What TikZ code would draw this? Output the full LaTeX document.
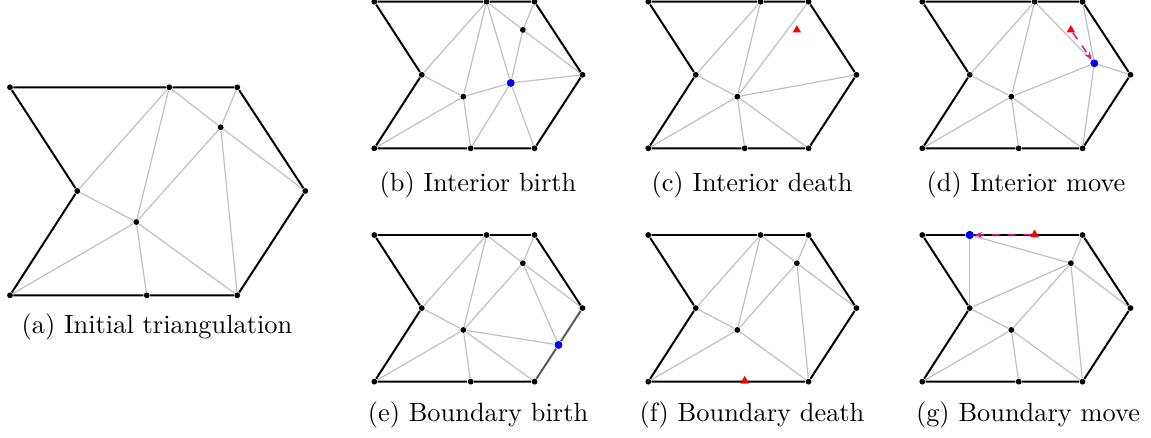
\documentclass[tikz,border=0pt]{standalone}
\usetikzlibrary{shapes.geometric,arrows.meta}
\newcommand\mkpts[1]{%
  \node[dot] (#1TL) at (0,0) {};
  \node[dot] (#1TR) at (227.3,0) {};
  \node[dot] (#1R) at (295.3,103.7) {};
  \node[dot] (#1L) at (67.3,103.7) {};
  \node[dot] (#1C) at (126.3,134.7) {};
  \node[dot] (#1BL) at (0,208) {};
  \node[dot] (#1BR) at (227.3,208) {};
}
\begin{document}
\begin{tikzpicture}[x=0.379pt,y=-0.379pt,
  dot/.style={circle,fill=black,inner sep=0pt,minimum size=2.2pt},
  bdot/.style={circle,fill=blue,inner sep=0pt,minimum size=3pt},
  rtri/.style={regular polygon,regular polygon sides=3,fill=red,inner sep=0pt,minimum size=3.6pt},
  bnd/.style={line width=0.75pt,black},
  edg/.style={line width=0.45pt,black!25},
  mv/.style={dashed,line width=0.6pt,magenta!75!violet,-{Stealth[length=3pt]}},
  captxt/.style={font=\normalsize}]
\useasboundingbox (0,0) rectangle (1151,438);
% (a)
\begin{scope}[shift={(10,87.3)}]
  \mkpts{a}
  \node[dot] (aTM) at (159.3,0) {};
  \node[dot] (aP) at (210.7,40) {};
  \node[dot] (aBM) at (136.7,208) {};
  \foreach \u/\v in {L/TM,TM/C,TM/P,TR/P,P/R,P/C,P/BR,L/C,BL/C,C/BM,C/BR}
    \draw[edg] (a\u) -- (a\v);
  \draw[bnd] (aTL) -- (aTM) -- (aTR) -- (aR) -- (aBR) -- (aBM) -- (aBL) -- (aL) -- (aTL);
\end{scope}
\node[captxt] (capa) at (157,327) {(a) Initial triangulation};
% (b)
\begin{scope}[shift={(374.3,1.7)},scale=0.705]
  \mkpts{b}
  \node[dot] (bTM) at (159.3,0) {};
  \node[dot] (bP) at (210.7,40) {};
  \node[dot] (bBM) at (136.7,208) {};
  \node[bdot] (bQ) at (193.5,115.3) {};
  \foreach \u/\v in {L/TM,TM/C,TM/Q,TM/P,TR/P,P/R,P/Q,Q/R,L/C,BL/C,C/Q,C/BM,Q/BM,Q/BR}
    \draw[edg] (b\u) -- (b\v);
  \draw[bnd] (bTL) -- (bTM) -- (bTR) -- (bR) -- (bBR) -- (bBM) -- (bBL) -- (bL) -- (bTL);
\end{scope}
\node[captxt] (capb) at (478,185) {(b) Interior birth};
% (c)
\begin{scope}[shift={(648.3,1.7)},scale=0.705]
  \mkpts{c}
  \node[dot] (cTM) at (159.3,0) {};
  \node[dot] (cBM) at (136.7,208) {};
  \node[rtri] (cX) at (210.7,40) {};
  \foreach \u/\v in {L/TM,TM/C,TR/C,C/R,L/C,BL/C,C/BM,C/BR}
    \draw[edg] (c\u) -- (c\v);
  \draw[bnd] (cTL) -- (cTM) -- (cTR) -- (cR) -- (cBR) -- (cBM) -- (cBL) -- (cL) -- (cTL);
\end{scope}
\node[captxt] (capc) at (752,185) {(c) Interior death};
% (d)
\begin{scope}[shift={(922.3,1.7)},scale=0.705]
  \mkpts{d}
  \node[dot] (dTM) at (159.3,0) {};
  \node[dot] (dBM) at (136.7,208) {};
  \node[rtri] (dX) at (210.7,40) {};
  \node[bdot] (dQ) at (244,87.4) {};
  \foreach \u/\v in {L/TM,TM/C,TM/Q,TR/Q,Q/R,Q/C,Q/BR,L/C,BL/C,C/BM,C/BR}
    \draw[edg] (d\u) -- (d\v);
  \draw[bnd] (dTL) -- (dTM) -- (dTR) -- (dR) -- (dBR) -- (dBM) -- (dBL) -- (dL) -- (dTL);
  \draw[mv] (dX) -- (dQ);
\end{scope}
\node[captxt] (capd) at (1026,185) {(d) Interior move};
% (e)
\begin{scope}[shift={(374.3,235)},scale=0.705]
  \mkpts{e}
  \node[dot] (eTM) at (159.3,0) {};
  \node[dot] (eP) at (210.7,40) {};
  \node[dot] (eBM) at (136.7,208) {};
  \node[bdot] (eQ) at (261.3,155.9) {};
  \foreach \u/\v in {L/TM,TM/C,TM/P,TR/P,P/R,P/C,P/Q,C/Q,L/C,BL/C,C/BM,C/BR}
    \draw[edg] (e\u) -- (e\v);
  \draw[bnd] (eBR) -- (eBM) -- (eBL) -- (eL) -- (eTL) -- (eTM) -- (eTR) -- (eR);
  \draw[line width=0.75pt,black!65] (eR) -- (eQ) -- (eBR);
\end{scope}
\node[captxt] (cape) at (478,415) {(e) Boundary birth};
% (f)
\begin{scope}[shift={(648.3,235)},scale=0.705]
  \mkpts{f}
  \node[dot] (fTM) at (159.3,0) {};
  \node[dot] (fP) at (210.7,40) {};
  \node[rtri] (fX) at (136.7,207) {};
  \foreach \u/\v in {L/TM,TM/C,TM/P,TR/P,P/R,P/C,P/BR,L/C,BL/C,C/BR}
    \draw[edg] (f\u) -- (f\v);
  \draw[bnd] (fTL) -- (fTM) -- (fTR) -- (fR) -- (fBR) -- (fBL) -- (fL) -- (fTL);
  \node[rtri] at (fX) {};
\end{scope}
\node[captxt] (capf) at (752,415) {(f) Boundary death};
% (g)
\begin{scope}[shift={(922.3,235)},scale=0.705]
  \mkpts{g}
  \node[bdot] (gQ) at (67.3,0) {};
  \node[dot] (gP) at (210.7,40) {};
  \node[dot] (gBM) at (136.7,208) {};
  \node[rtri] (gX) at (159.3,-0.5) {};
  \foreach \u/\v in {Q/L,Q/P,L/P,TR/P,P/R,P/C,P/BR,L/C,BL/C,C/BM,C/BR}
    \draw[edg] (g\u) -- (g\v);
  \draw[bnd] (gTL) -- (gQ) -- (gTR) -- (gR) -- (gBR) -- (gBM) -- (gBL) -- (gL) -- (gTL);
  \draw[mv] (gX) -- (gQ);
  \node[rtri] at (gX) {};
  \node[bdot] at (gQ) {};
\end{scope}
\node[captxt] (capg) at (1028,415) {(g) Boundary move};
\end{tikzpicture}
\end{document}
